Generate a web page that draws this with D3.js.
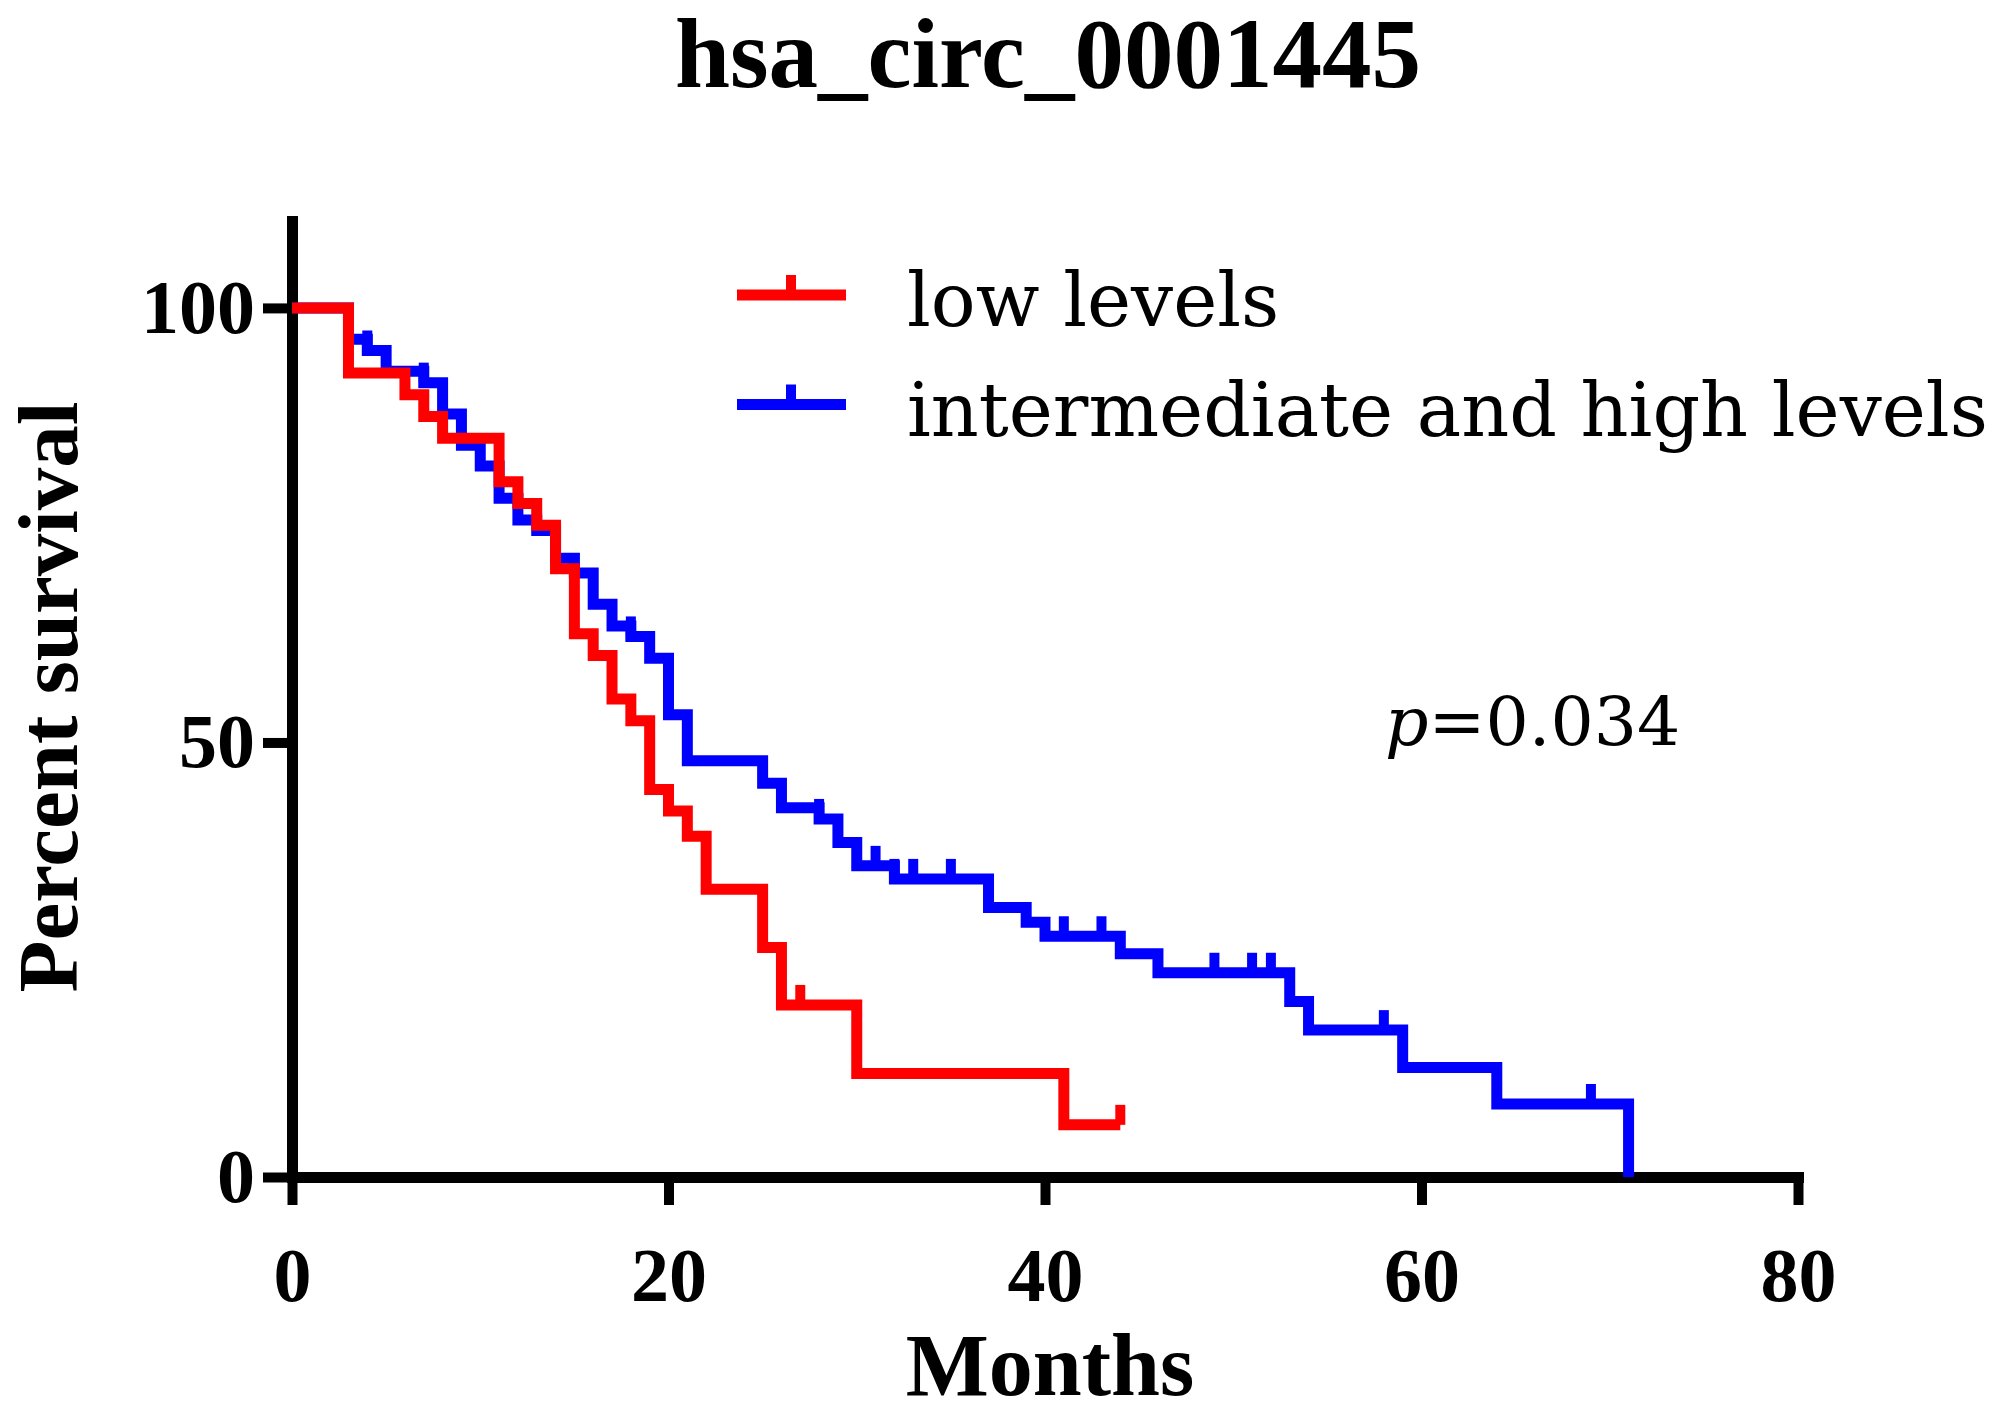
<!DOCTYPE html>
<html>
<head>
<meta charset="utf-8">
<script src="https://cdn.jsdelivr.net/npm/d3@7"></script>
<style>
  body { margin: 0; background: #fff; }
  .tick text { font-family: "Liberation Serif", serif; font-weight: bold; font-size: 76px; fill: #000; }
</style>
</head>
<body>
<div id="chart"></div>
<script>
// survival data (months, percent survival)
var lowTimes = [0, 3, 6, 7, 8, 11, 12, 13, 14, 15, 16, 17, 18, 19, 20, 21, 22, 25, 26, 30, 41, 44];
var lowSurv  = [100, 92.5, 90, 87.5, 85, 80, 77.5, 75, 70, 62.5, 60, 55, 52.5, 44.6, 42.1, 39.2, 33.1, 26.4, 19.8, 11.9, 6.0, 6.0];
var lowCensor = [27, 44];

var highTimes = [0, 3, 4, 5, 7, 8, 9, 10, 11, 12, 13, 14, 15, 16, 17, 18, 19, 20, 21, 25, 26, 28, 29, 30, 32, 37, 39, 40, 44, 46, 53, 54, 59, 64, 71];
var highSurv  = [100, 96.4, 95.1, 92.7, 91.4, 87.8, 84.2, 81.8, 78.1, 75.6, 74.4, 71.2, 69.5, 65.9, 63.4, 62.2, 59.7, 53.2, 47.9, 45.3, 42.5, 41.2, 38.5, 35.8, 34.3, 31.0, 29.3, 27.7, 25.7, 23.5, 20.2, 16.9, 12.6, 8.4, 0];
var highCensor = [4, 7, 15, 18, 28, 31, 32, 33, 35, 41, 43, 49, 51, 52, 58, 69];

var groups = ["low levels", "intermediate and high levels"];
var colors = ["#ff0000", "#0000ff"];
var xTicks = [0, 20, 40, 60, 80];
var yTicks = [0, 50, 100];

var width = 1995;
var height = 1415;

var svg = d3.select("#chart")
    .append("svg")
    .attr("width", width)
    .attr("height", height);

svg.append("rect").attr("width", width).attr("height", height).attr("fill", "#fff");

var x = d3.scaleLinear().domain([0, 80]).range([292, 1798]);
var y = d3.scaleLinear().domain([0, 110]).range([1177, 221]);

// axes
var xAxis = svg.append("g")
    .attr("transform", "translate(0," + y(0) + ")")
    .call(d3.axisBottom(x).tickValues(xTicks).tickSize(28).tickSizeOuter(0).tickPadding(42));

var yAxis = svg.append("g")
    .attr("transform", "translate(" + x(0) + ",0)")
    .call(d3.axisLeft(y).tickValues(yTicks).tickSize(29).tickSizeOuter(0).tickPadding(8));

[xAxis, yAxis].forEach(function(a) {
    a.select(".domain").attr("stroke", "#000").attr("stroke-width", 11).attr("stroke-linecap", "square");
    a.selectAll(".tick line").attr("stroke", "#000").attr("stroke-width", 10);
});

// step curves
var line = d3.line()
    .x(function(d) { return x(d[0]); })
    .y(function(d) { return y(d[1]); })
    .curve(d3.curveStepAfter);

function survAt(times, surv, t) {
    var s = surv[0];
    for (var i = 0; i < times.length; i++) {
        if (times[i] <= t) s = surv[i];
    }
    return s;
}

var series = [
    { times: highTimes, surv: highSurv, censor: highCensor, color: colors[1] },
    { times: lowTimes, surv: lowSurv, censor: lowCensor, color: colors[0] }
];

series.forEach(function(s) {
    var g = svg.append("g");
    g.append("path")
        .datum(d3.zip(s.times, s.surv))
        .attr("fill", "none")
        .attr("stroke", s.color)
        .attr("stroke-width", 11)
        .attr("stroke-linejoin", "miter")
        .attr("d", line);

    g.selectAll("line")
        .data(s.censor)
        .enter()
        .append("line")
        .attr("x1", function(t) { return x(t); })
        .attr("x2", function(t) { return x(t); })
        .attr("y1", function(t) { return y(survAt(s.times, s.surv, t)); })
        .attr("y2", function(t) { return y(survAt(s.times, s.surv, t)) - 20; })
        .attr("stroke", s.color)
        .attr("stroke-width", 10);
});

// legend
var legend = svg.append("g").attr("transform", "translate(737,295)");
groups.forEach(function(name, i) {
    var row = legend.append("g").attr("transform", "translate(0," + (i * 109.5) + ")");
    row.append("line").attr("x1", 0).attr("x2", 109).attr("y1", 0).attr("y2", 0)
        .attr("stroke", colors[i]).attr("stroke-width", 11);
    row.append("line").attr("x1", 54).attr("x2", 54).attr("y1", 0).attr("y2", -20)
        .attr("stroke", colors[i]).attr("stroke-width", 10);
    row.append("text")
        .attr("x", 170)
        .attr("y", 31)
        .attr("font-family", "'DejaVu Serif', serif")
        .attr("font-size", 74.5)
        .text(name);
});

// p value
var pText = svg.append("text")
    .attr("x", 1385)
    .attr("y", 745)
    .attr("font-family", "'DejaVu Serif', serif")
    .attr("font-size", 68);
pText.append("tspan").attr("font-style", "italic").text("p");
pText.append("tspan").text("=0.034");

// title and axis titles
svg.append("text")
    .attr("x", 1048)
    .attr("y", 87)
    .attr("text-anchor", "middle")
    .attr("font-family", "'Liberation Serif', serif")
    .attr("font-weight", "bold")
    .attr("font-size", 99)
    .text("hsa_circ_0001445");

svg.append("text")
    .attr("x", 1050)
    .attr("y", 1395)
    .attr("text-anchor", "middle")
    .attr("font-family", "'Liberation Serif', serif")
    .attr("font-weight", "bold")
    .attr("font-size", 88)
    .text("Months");

svg.append("text")
    .attr("transform", "translate(77,697) rotate(-90)")
    .attr("text-anchor", "middle")
    .attr("font-family", "'Liberation Serif', serif")
    .attr("font-weight", "bold")
    .attr("font-size", 85)
    .text("Percent survival");
</script>
</body>
</html>
